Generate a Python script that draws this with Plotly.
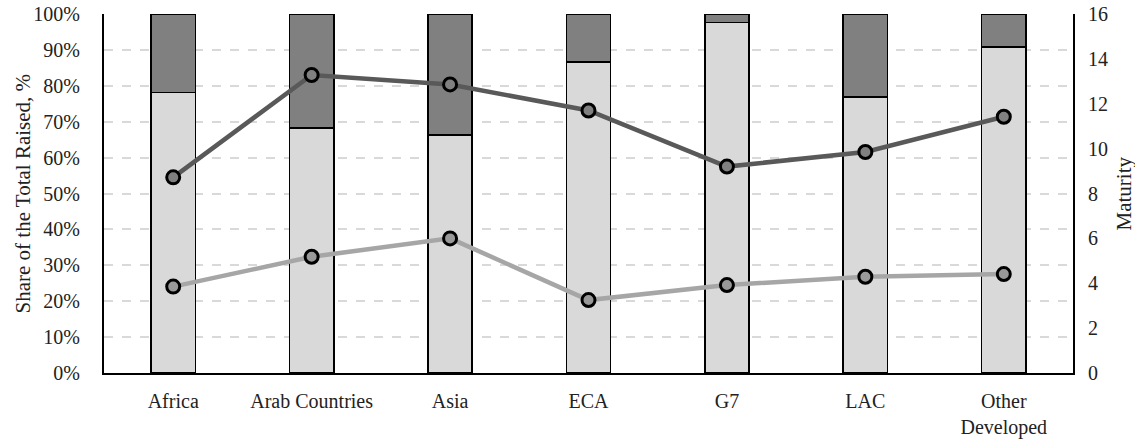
import plotly.graph_objects as go

categories = ["Africa", "Arab Countries", "Asia", "ECA", "G7", "LAC", "Other<br>Developed"]
share_lower = [0.781, 0.683, 0.663, 0.866, 0.976, 0.769, 0.908]
share_upper = [round(1 - v, 3) for v in share_lower]
maturity_high = [8.72, 13.28, 12.86, 11.70, 9.20, 9.85, 11.42]
maturity_low = [3.85, 5.18, 6.00, 3.25, 3.92, 4.29, 4.41]

FONT = "Liberation Serif"
TICK_SIZE = 20
TITLE_SIZE = 21

fig = go.Figure()
fig.add_trace(go.Bar(
    x=categories, y=share_lower, marker=dict(color="#d9d9d9", line=dict(color="black", width=1.5)),
    showlegend=False,
))
fig.add_trace(go.Bar(
    x=categories, y=share_upper, marker=dict(color="#808080", line=dict(color="black", width=1.5)),
    showlegend=False,
))
fig.add_trace(go.Scatter(
    x=categories, y=maturity_high, yaxis="y2", mode="lines+markers",
    line=dict(color="#595959", width=4.5),
    marker=dict(size=13, color="#808080", line=dict(color="black", width=3)),
    showlegend=False,
))
fig.add_trace(go.Scatter(
    x=categories, y=maturity_low, yaxis="y2", mode="lines+markers",
    line=dict(color="#a6a6a6", width=4.5),
    marker=dict(size=13, color="#999999", line=dict(color="black", width=3)),
    showlegend=False,
))

fig.update_layout(
    width=1135, height=440,
    margin=dict(l=104, r=62, t=14, b=67),
    barmode="stack", bargap=0.68,
    plot_bgcolor="white", paper_bgcolor="white",
    font=dict(family=FONT, size=TICK_SIZE, color="#222"),
    xaxis=dict(
        automargin=False,
        showline=True, linecolor="black", linewidth=2,
        ticks="outside", ticklen=9, tickcolor="rgba(0,0,0,0)",
        tickfont=dict(size=TICK_SIZE),
    ),
    yaxis=dict(
        automargin=False,
        range=[0, 1], dtick=0.1, tickformat=".0%",
        showline=True, linecolor="black", linewidth=2,
        showgrid=True, gridcolor="#d9d9d9", griddash="dash", gridwidth=1.5,
        zeroline=False,
        ticks="outside", ticklen=18, tickcolor="rgba(0,0,0,0)",
    ),
    yaxis2=dict(
        automargin=False,
        overlaying="y", side="right", range=[0, 16], dtick=2,
        showline=True, linecolor="black", linewidth=2,
        showgrid=False, zeroline=False,
        ticks="outside", ticklen=9, tickcolor="rgba(0,0,0,0)",
    ),
    annotations=[
        dict(
            text="Share of the Total Raised, %", textangle=-90, xref="paper", yref="paper",
            x=0, y=0.5, xanchor="center", yanchor="middle", xshift=-82,
            showarrow=False, font=dict(size=TITLE_SIZE),
        ),
        dict(
            text="Maturity", textangle=-90, xref="paper", yref="paper",
            x=1, y=0.5, xanchor="center", yanchor="middle", xshift=50,
            showarrow=False, font=dict(size=TITLE_SIZE),
        ),
    ],
)

fig.write_html("out.html")
